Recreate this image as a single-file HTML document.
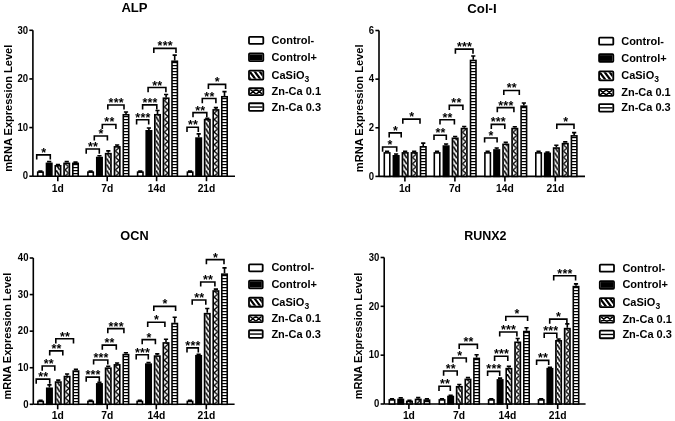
<!DOCTYPE html>
<html><head><meta charset="utf-8"><style>
html,body{margin:0;padding:0;background:#fff;}
svg{display:block;will-change:transform;filter:blur(0.35px);}
text{font-family:"Liberation Sans", sans-serif;fill:#000;}
</style></head><body>
<svg width="675" height="421" viewBox="0 0 675 421">
<rect width="675" height="421" fill="#fff"/>
<defs><pattern id="p1" patternUnits="userSpaceOnUse" x="56.06" y="176.2" width="3.8" height="6"><rect width="3.8" height="6" fill="#fff"/><path d="M-3.8,-6 L7.6,12" stroke="#000" stroke-width="1.7"/></pattern><pattern id="p2" patternUnits="userSpaceOnUse" x="64.84" y="176.2" width="3.8" height="6.3"><rect width="3.8" height="6.3" fill="#fff"/><path d="M0,0 L3.8,3.15 L0,6.3" stroke="#000" stroke-width="1.3" fill="none"/></pattern><pattern id="p3" patternUnits="userSpaceOnUse" x="73.62" y="176" width="3.8" height="3"><rect width="3.8" height="3" fill="#fff"/><rect y="0" width="3.8" height="1.2" fill="#000"/></pattern><pattern id="p4" patternUnits="userSpaceOnUse" x="106.4" y="176.2" width="3.8" height="6"><rect width="3.8" height="6" fill="#fff"/><path d="M-3.8,-6 L7.6,12" stroke="#000" stroke-width="1.7"/></pattern><pattern id="p5" patternUnits="userSpaceOnUse" x="115.25" y="176.2" width="3.8" height="6.3"><rect width="3.8" height="6.3" fill="#fff"/><path d="M0,0 L3.8,3.15 L0,6.3" stroke="#000" stroke-width="1.3" fill="none"/></pattern><pattern id="p6" patternUnits="userSpaceOnUse" x="124.1" y="176" width="3.8" height="3"><rect width="3.8" height="3" fill="#fff"/><rect y="0" width="3.8" height="1.2" fill="#000"/></pattern><pattern id="p7" patternUnits="userSpaceOnUse" x="155.6" y="176.2" width="3.8" height="6"><rect width="3.8" height="6" fill="#fff"/><path d="M-3.8,-6 L7.6,12" stroke="#000" stroke-width="1.7"/></pattern><pattern id="p8" patternUnits="userSpaceOnUse" x="164.2" y="176.2" width="3.8" height="6.3"><rect width="3.8" height="6.3" fill="#fff"/><path d="M0,0 L3.8,3.15 L0,6.3" stroke="#000" stroke-width="1.3" fill="none"/></pattern><pattern id="p9" patternUnits="userSpaceOnUse" x="172.8" y="176" width="3.8" height="3"><rect width="3.8" height="3" fill="#fff"/><rect y="0" width="3.8" height="1.2" fill="#000"/></pattern><pattern id="p10" patternUnits="userSpaceOnUse" x="205.4" y="176.2" width="3.8" height="6"><rect width="3.8" height="6" fill="#fff"/><path d="M-3.8,-6 L7.6,12" stroke="#000" stroke-width="1.7"/></pattern><pattern id="p11" patternUnits="userSpaceOnUse" x="214" y="176.2" width="3.8" height="6.3"><rect width="3.8" height="6.3" fill="#fff"/><path d="M0,0 L3.8,3.15 L0,6.3" stroke="#000" stroke-width="1.3" fill="none"/></pattern><pattern id="p12" patternUnits="userSpaceOnUse" x="222.6" y="176" width="3.8" height="3"><rect width="3.8" height="3" fill="#fff"/><rect y="0" width="3.8" height="1.2" fill="#000"/></pattern><clipPath id="c13"><rect x="249.9" y="71.45" width="12.5" height="7.2"/></clipPath><clipPath id="c14"><rect x="249.9" y="89.15" width="12.5" height="5"/></clipPath><pattern id="p15" patternUnits="userSpaceOnUse" x="403.2" y="176.4" width="3.9" height="6"><rect width="3.9" height="6" fill="#fff"/><path d="M-3.9,-6 L7.8,12" stroke="#000" stroke-width="1.7"/></pattern><pattern id="p16" patternUnits="userSpaceOnUse" x="412.25" y="176.4" width="3.9" height="6.3"><rect width="3.9" height="6.3" fill="#fff"/><path d="M0,0 L3.9,3.15 L0,6.3" stroke="#000" stroke-width="1.3" fill="none"/></pattern><pattern id="p17" patternUnits="userSpaceOnUse" x="421.3" y="176" width="3.9" height="3"><rect width="3.9" height="3" fill="#fff"/><rect y="0" width="3.9" height="1.2" fill="#000"/></pattern><pattern id="p18" patternUnits="userSpaceOnUse" x="453.2" y="176.4" width="3.9" height="6"><rect width="3.9" height="6" fill="#fff"/><path d="M-3.9,-6 L7.8,12" stroke="#000" stroke-width="1.7"/></pattern><pattern id="p19" patternUnits="userSpaceOnUse" x="462.25" y="176.4" width="3.9" height="6.3"><rect width="3.9" height="6.3" fill="#fff"/><path d="M0,0 L3.9,3.15 L0,6.3" stroke="#000" stroke-width="1.3" fill="none"/></pattern><pattern id="p20" patternUnits="userSpaceOnUse" x="471.3" y="176" width="3.9" height="3"><rect width="3.9" height="3" fill="#fff"/><rect y="0" width="3.9" height="1.2" fill="#000"/></pattern><pattern id="p21" patternUnits="userSpaceOnUse" x="503.8" y="176.4" width="3.9" height="6"><rect width="3.9" height="6" fill="#fff"/><path d="M-3.9,-6 L7.8,12" stroke="#000" stroke-width="1.7"/></pattern><pattern id="p22" patternUnits="userSpaceOnUse" x="512.85" y="176.4" width="3.9" height="6.3"><rect width="3.9" height="6.3" fill="#fff"/><path d="M0,0 L3.9,3.15 L0,6.3" stroke="#000" stroke-width="1.3" fill="none"/></pattern><pattern id="p23" patternUnits="userSpaceOnUse" x="521.9" y="176" width="3.9" height="3"><rect width="3.9" height="3" fill="#fff"/><rect y="0" width="3.9" height="1.2" fill="#000"/></pattern><pattern id="p24" patternUnits="userSpaceOnUse" x="554.4" y="176.4" width="3.9" height="6"><rect width="3.9" height="6" fill="#fff"/><path d="M-3.9,-6 L7.8,12" stroke="#000" stroke-width="1.7"/></pattern><pattern id="p25" patternUnits="userSpaceOnUse" x="563.3" y="176.4" width="3.9" height="6.3"><rect width="3.9" height="6.3" fill="#fff"/><path d="M0,0 L3.9,3.15 L0,6.3" stroke="#000" stroke-width="1.3" fill="none"/></pattern><pattern id="p26" patternUnits="userSpaceOnUse" x="572.2" y="176" width="3.9" height="3"><rect width="3.9" height="3" fill="#fff"/><rect y="0" width="3.9" height="1.2" fill="#000"/></pattern><clipPath id="c27"><rect x="600" y="72.25" width="12.4" height="7.2"/></clipPath><clipPath id="c28"><rect x="600" y="89.95" width="12.4" height="5"/></clipPath><pattern id="p29" patternUnits="userSpaceOnUse" x="56.36" y="404.3" width="3.8" height="6"><rect width="3.8" height="6" fill="#fff"/><path d="M-3.8,-6 L7.6,12" stroke="#000" stroke-width="1.7"/></pattern><pattern id="p30" patternUnits="userSpaceOnUse" x="65.19" y="404.3" width="3.8" height="6.3"><rect width="3.8" height="6.3" fill="#fff"/><path d="M0,0 L3.8,3.15 L0,6.3" stroke="#000" stroke-width="1.3" fill="none"/></pattern><pattern id="p31" patternUnits="userSpaceOnUse" x="74.02" y="404" width="3.8" height="3"><rect width="3.8" height="3" fill="#fff"/><rect y="0" width="3.8" height="1.2" fill="#000"/></pattern><pattern id="p32" patternUnits="userSpaceOnUse" x="106.36" y="404.3" width="3.8" height="6"><rect width="3.8" height="6" fill="#fff"/><path d="M-3.8,-6 L7.6,12" stroke="#000" stroke-width="1.7"/></pattern><pattern id="p33" patternUnits="userSpaceOnUse" x="115.19" y="404.3" width="3.8" height="6.3"><rect width="3.8" height="6.3" fill="#fff"/><path d="M0,0 L3.8,3.15 L0,6.3" stroke="#000" stroke-width="1.3" fill="none"/></pattern><pattern id="p34" patternUnits="userSpaceOnUse" x="124.02" y="404" width="3.8" height="3"><rect width="3.8" height="3" fill="#fff"/><rect y="0" width="3.8" height="1.2" fill="#000"/></pattern><pattern id="p35" patternUnits="userSpaceOnUse" x="155.36" y="404.3" width="3.8" height="6"><rect width="3.8" height="6" fill="#fff"/><path d="M-3.8,-6 L7.6,12" stroke="#000" stroke-width="1.7"/></pattern><pattern id="p36" patternUnits="userSpaceOnUse" x="164.09" y="404.3" width="3.8" height="6.3"><rect width="3.8" height="6.3" fill="#fff"/><path d="M0,0 L3.8,3.15 L0,6.3" stroke="#000" stroke-width="1.3" fill="none"/></pattern><pattern id="p37" patternUnits="userSpaceOnUse" x="172.82" y="404" width="3.8" height="3"><rect width="3.8" height="3" fill="#fff"/><rect y="0" width="3.8" height="1.2" fill="#000"/></pattern><pattern id="p38" patternUnits="userSpaceOnUse" x="205.36" y="404.3" width="3.8" height="6"><rect width="3.8" height="6" fill="#fff"/><path d="M-3.8,-6 L7.6,12" stroke="#000" stroke-width="1.7"/></pattern><pattern id="p39" patternUnits="userSpaceOnUse" x="213.99" y="404.3" width="3.8" height="6.3"><rect width="3.8" height="6.3" fill="#fff"/><path d="M0,0 L3.8,3.15 L0,6.3" stroke="#000" stroke-width="1.3" fill="none"/></pattern><pattern id="p40" patternUnits="userSpaceOnUse" x="222.62" y="404" width="3.8" height="3"><rect width="3.8" height="3" fill="#fff"/><rect y="0" width="3.8" height="1.2" fill="#000"/></pattern><clipPath id="c41"><rect x="249.9" y="298.64" width="11.9" height="7.2"/></clipPath><clipPath id="c42"><rect x="249.9" y="316.24" width="11.9" height="5"/></clipPath><pattern id="p43" patternUnits="userSpaceOnUse" x="407.56" y="404" width="3.8" height="6"><rect width="3.8" height="6" fill="#fff"/><path d="M-3.8,-6 L7.6,12" stroke="#000" stroke-width="1.7"/></pattern><pattern id="p44" patternUnits="userSpaceOnUse" x="416.29" y="404" width="3.8" height="6.3"><rect width="3.8" height="6.3" fill="#fff"/><path d="M0,0 L3.8,3.15 L0,6.3" stroke="#000" stroke-width="1.3" fill="none"/></pattern><pattern id="p45" patternUnits="userSpaceOnUse" x="425.02" y="404" width="3.8" height="3"><rect width="3.8" height="3" fill="#fff"/><rect y="0" width="3.8" height="1.2" fill="#000"/></pattern><pattern id="p46" patternUnits="userSpaceOnUse" x="457.4" y="404" width="3.8" height="6"><rect width="3.8" height="6" fill="#fff"/><path d="M-3.8,-6 L7.6,12" stroke="#000" stroke-width="1.7"/></pattern><pattern id="p47" patternUnits="userSpaceOnUse" x="466.05" y="404" width="3.8" height="6.3"><rect width="3.8" height="6.3" fill="#fff"/><path d="M0,0 L3.8,3.15 L0,6.3" stroke="#000" stroke-width="1.3" fill="none"/></pattern><pattern id="p48" patternUnits="userSpaceOnUse" x="474.7" y="404" width="3.8" height="3"><rect width="3.8" height="3" fill="#fff"/><rect y="0" width="3.8" height="1.2" fill="#000"/></pattern><pattern id="p49" patternUnits="userSpaceOnUse" x="507" y="404" width="3.8" height="6"><rect width="3.8" height="6" fill="#fff"/><path d="M-3.8,-6 L7.6,12" stroke="#000" stroke-width="1.7"/></pattern><pattern id="p50" patternUnits="userSpaceOnUse" x="515.8" y="404" width="3.8" height="6.3"><rect width="3.8" height="6.3" fill="#fff"/><path d="M0,0 L3.8,3.15 L0,6.3" stroke="#000" stroke-width="1.3" fill="none"/></pattern><pattern id="p51" patternUnits="userSpaceOnUse" x="524.6" y="404" width="3.8" height="3"><rect width="3.8" height="3" fill="#fff"/><rect y="0" width="3.8" height="1.2" fill="#000"/></pattern><pattern id="p52" patternUnits="userSpaceOnUse" x="556.7" y="404" width="3.8" height="6"><rect width="3.8" height="6" fill="#fff"/><path d="M-3.8,-6 L7.6,12" stroke="#000" stroke-width="1.7"/></pattern><pattern id="p53" patternUnits="userSpaceOnUse" x="565.4" y="404" width="3.8" height="6.3"><rect width="3.8" height="6.3" fill="#fff"/><path d="M0,0 L3.8,3.15 L0,6.3" stroke="#000" stroke-width="1.3" fill="none"/></pattern><pattern id="p54" patternUnits="userSpaceOnUse" x="574.1" y="404" width="3.8" height="3"><rect width="3.8" height="3" fill="#fff"/><rect y="0" width="3.8" height="1.2" fill="#000"/></pattern><clipPath id="c55"><rect x="600.7" y="299.04" width="12.4" height="7.2"/></clipPath><clipPath id="c56"><rect x="600.7" y="316.64" width="12.4" height="5"/></clipPath></defs><g><text x="134.5" y="12.4" text-anchor="middle" font-size="13.6" font-weight="bold" textLength="26.2" lengthAdjust="spacingAndGlyphs">ALP</text><path d="M32.9,30.3 V176.2 M32.9,176.2 H235" stroke="#000" stroke-width="1.6" fill="none"/><path d="M29.3,176.2 H32.9" stroke="#000" stroke-width="1.6"/><text x="28.1" y="179.45" text-anchor="end" font-size="10.3" font-weight="bold" textLength="5.33" lengthAdjust="spacingAndGlyphs">0</text><path d="M29.3,127.57 H32.9" stroke="#000" stroke-width="1.6"/><text x="28.1" y="130.82" text-anchor="end" font-size="10.3" font-weight="bold" textLength="10.65" lengthAdjust="spacingAndGlyphs">10</text><path d="M29.3,78.93 H32.9" stroke="#000" stroke-width="1.6"/><text x="28.1" y="82.18" text-anchor="end" font-size="10.3" font-weight="bold" textLength="10.65" lengthAdjust="spacingAndGlyphs">20</text><path d="M29.3,30.3 H32.9" stroke="#000" stroke-width="1.6"/><text x="28.1" y="33.55" text-anchor="end" font-size="10.3" font-weight="bold" textLength="10.65" lengthAdjust="spacingAndGlyphs">30</text><path d="M57.8,176.2 V181.2" stroke="#000" stroke-width="1.6"/><text x="57.8" y="191.5" text-anchor="middle" font-size="10.3" font-weight="bold">1d</text><path d="M107.2,176.2 V181.2" stroke="#000" stroke-width="1.6"/><text x="107.2" y="191.5" text-anchor="middle" font-size="10.3" font-weight="bold">7d</text><path d="M156.6,176.2 V181.2" stroke="#000" stroke-width="1.6"/><text x="156.6" y="191.5" text-anchor="middle" font-size="10.3" font-weight="bold">14d</text><path d="M206.5,176.2 V181.2" stroke="#000" stroke-width="1.6"/><text x="206.5" y="191.5" text-anchor="middle" font-size="10.3" font-weight="bold">21d</text><text transform="translate(11.6,108.25) rotate(-90)" text-anchor="middle" font-size="10.9" font-weight="bold" textLength="127.1" lengthAdjust="spacingAndGlyphs">mRNA Expression Level</text><path d="M40.4,171.34 V171.09 M38.3,171.09 H42.5" stroke="#000" stroke-width="1.6"/><rect x="37.7" y="172.14" width="5.4" height="4.06" fill="#fff" stroke="#000" stroke-width="1.6"/><path d="M49.18,162.58 V161.61 M47.08,161.61 H51.28" stroke="#000" stroke-width="1.6"/><rect x="46.48" y="163.38" width="5.4" height="12.82" fill="#000" stroke="#000" stroke-width="1.6"/><path d="M57.96,165.01 V164.53 M55.86,164.53 H60.06" stroke="#000" stroke-width="1.6"/><rect x="55.26" y="165.81" width="5.4" height="10.39" fill="url(#p1)" stroke="#000" stroke-width="1.6"/><path d="M66.74,162.58 V161.61 M64.64,161.61 H68.84" stroke="#000" stroke-width="1.6"/><rect x="64.04" y="163.38" width="5.4" height="12.82" fill="url(#p2)" stroke="#000" stroke-width="1.6"/><path d="M75.52,162.58 V162.1 M73.42,162.1 H77.62" stroke="#000" stroke-width="1.6"/><rect x="72.82" y="163.38" width="5.4" height="12.82" fill="url(#p3)" stroke="#000" stroke-width="1.6"/><path d="M90.6,171.34 V171.09 M88.5,171.09 H92.7" stroke="#000" stroke-width="1.6"/><rect x="87.9" y="172.14" width="5.4" height="4.06" fill="#fff" stroke="#000" stroke-width="1.6"/><path d="M99.45,156.75 V155.77 M97.35,155.77 H101.55" stroke="#000" stroke-width="1.6"/><rect x="96.75" y="157.55" width="5.4" height="18.65" fill="#000" stroke="#000" stroke-width="1.6"/><path d="M108.3,152.86 V150.91 M106.2,150.91 H110.4" stroke="#000" stroke-width="1.6"/><rect x="105.6" y="153.66" width="5.4" height="22.54" fill="url(#p4)" stroke="#000" stroke-width="1.6"/><path d="M117.15,146.05 V145.07 M115.05,145.07 H119.25" stroke="#000" stroke-width="1.6"/><rect x="114.45" y="146.85" width="5.4" height="29.35" fill="url(#p5)" stroke="#000" stroke-width="1.6"/><path d="M126,113.95 V112 M123.9,112 H128.1" stroke="#000" stroke-width="1.6"/><rect x="123.3" y="114.75" width="5.4" height="61.45" fill="url(#p6)" stroke="#000" stroke-width="1.6"/><path d="M140.3,171.34 V171.09 M138.2,171.09 H142.4" stroke="#000" stroke-width="1.6"/><rect x="137.6" y="172.14" width="5.4" height="4.06" fill="#fff" stroke="#000" stroke-width="1.6"/><path d="M148.9,130 V128.05 M146.8,128.05 H151" stroke="#000" stroke-width="1.6"/><rect x="146.2" y="130.8" width="5.4" height="45.4" fill="#000" stroke="#000" stroke-width="1.6"/><path d="M157.5,113.95 V110.55 M155.4,110.55 H159.6" stroke="#000" stroke-width="1.6"/><rect x="154.8" y="114.75" width="5.4" height="61.45" fill="url(#p7)" stroke="#000" stroke-width="1.6"/><path d="M166.1,97.41 V94.5 M164,94.5 H168.2" stroke="#000" stroke-width="1.6"/><rect x="163.4" y="98.21" width="5.4" height="77.99" fill="url(#p8)" stroke="#000" stroke-width="1.6"/><path d="M174.7,60.45 V55.1 M172.6,55.1 H176.8" stroke="#000" stroke-width="1.6"/><rect x="172" y="61.25" width="5.4" height="114.95" fill="url(#p9)" stroke="#000" stroke-width="1.6"/><path d="M190.1,171.34 V171.09 M188,171.09 H192.2" stroke="#000" stroke-width="1.6"/><rect x="187.4" y="172.14" width="5.4" height="4.06" fill="#fff" stroke="#000" stroke-width="1.6"/><path d="M198.7,137.29 V133.89 M196.6,133.89 H200.8" stroke="#000" stroke-width="1.6"/><rect x="196" y="138.09" width="5.4" height="38.11" fill="#000" stroke="#000" stroke-width="1.6"/><path d="M207.3,118.81 V118.33 M205.2,118.33 H209.4" stroke="#000" stroke-width="1.6"/><rect x="204.6" y="119.61" width="5.4" height="56.59" fill="url(#p10)" stroke="#000" stroke-width="1.6"/><path d="M215.9,109.09 V107.63 M213.8,107.63 H218" stroke="#000" stroke-width="1.6"/><rect x="213.2" y="109.89" width="5.4" height="66.31" fill="url(#p11)" stroke="#000" stroke-width="1.6"/><path d="M224.5,95.95 V91.58 M222.4,91.58 H226.6" stroke="#000" stroke-width="1.6"/><rect x="221.8" y="96.75" width="5.4" height="79.44" fill="url(#p12)" stroke="#000" stroke-width="1.6"/><path d="M36.7,159.5 V154.85 H50.3 V159.5" stroke="#000" stroke-width="1.6" fill="none"/><text x="43.8" y="156.8" text-anchor="middle" font-size="12.5" font-weight="bold" letter-spacing="0.2">*</text><path d="M86.2,153.7 V149.05 H99.3 V153.7" stroke="#000" stroke-width="1.6" fill="none"/><text x="93.05" y="151" text-anchor="middle" font-size="12.5" font-weight="bold" letter-spacing="0.2">**</text><path d="M94.3,140.6 V135.95 H107.4 V140.6" stroke="#000" stroke-width="1.6" fill="none"/><text x="101.15" y="137.9" text-anchor="middle" font-size="12.5" font-weight="bold" letter-spacing="0.2">*</text><path d="M102.3,129.1 V124.45 H115.9 V129.1" stroke="#000" stroke-width="1.6" fill="none"/><text x="109.4" y="126.4" text-anchor="middle" font-size="12.5" font-weight="bold" letter-spacing="0.2">**</text><path d="M107.8,109.6 V104.95 H124 V109.6" stroke="#000" stroke-width="1.6" fill="none"/><text x="116.2" y="106.9" text-anchor="middle" font-size="12.5" font-weight="bold" letter-spacing="0.2">***</text><path d="M136.6,124.4 V119.75 H148.7 V124.4" stroke="#000" stroke-width="1.6" fill="none"/><text x="142.95" y="121.7" text-anchor="middle" font-size="12.5" font-weight="bold" letter-spacing="0.2">***</text><path d="M142.6,109.5 V104.85 H156.8 V109.5" stroke="#000" stroke-width="1.6" fill="none"/><text x="150" y="106.8" text-anchor="middle" font-size="12.5" font-weight="bold" letter-spacing="0.2">***</text><path d="M148.1,92.2 V87.55 H165.9 V92.2" stroke="#000" stroke-width="1.6" fill="none"/><text x="157.3" y="89.5" text-anchor="middle" font-size="12.5" font-weight="bold" letter-spacing="0.2">**</text><path d="M153.8,53 V48.35 H176 V53" stroke="#000" stroke-width="1.6" fill="none"/><text x="165.2" y="50.3" text-anchor="middle" font-size="12.5" font-weight="bold" letter-spacing="0.2">***</text><path d="M187,131.9 V127.25 H198.3 V131.9" stroke="#000" stroke-width="1.6" fill="none"/><text x="192.95" y="129.2" text-anchor="middle" font-size="12.5" font-weight="bold" letter-spacing="0.2">**</text><path d="M193,117.3 V112.65 H206.8 V117.3" stroke="#000" stroke-width="1.6" fill="none"/><text x="200.2" y="114.6" text-anchor="middle" font-size="12.5" font-weight="bold" letter-spacing="0.2">**</text><path d="M202.3,103.2 V98.55 H215.9 V103.2" stroke="#000" stroke-width="1.6" fill="none"/><text x="209.4" y="100.5" text-anchor="middle" font-size="12.5" font-weight="bold" letter-spacing="0.2">**</text><path d="M208.4,89 V84.35 H225.6 V89" stroke="#000" stroke-width="1.6" fill="none"/><text x="217.3" y="86.3" text-anchor="middle" font-size="12.5" font-weight="bold" letter-spacing="0.2">*</text><rect x="249" y="36.9" width="14.3" height="7" rx="0.8" fill="#fff" stroke="#000" stroke-width="1.8"/><text x="271.5" y="43.9" font-size="11" font-weight="bold">Control-</text><rect x="249" y="53.45" width="14.3" height="7.6" rx="0.8" fill="#fff" stroke="#000" stroke-width="1.8"/><rect x="249.9" y="54.35" width="12.5" height="5.8" fill="#000"/><text x="271.5" y="60.75" font-size="11" font-weight="bold">Control+</text><rect x="249" y="70.55" width="14.3" height="9" rx="0.8" fill="#fff" stroke="#000" stroke-width="1.8"/><path clip-path="url(#c13)" d="M238.9,70.45 L245.8,79.65 M243.9,70.45 L250.8,79.65 M248.9,70.45 L255.8,79.65 M253.9,70.45 L260.8,79.65 M258.9,70.45 L265.8,79.65 M263.9,70.45 L270.8,79.65 M268.9,70.45 L275.8,79.65 " stroke="#000" stroke-width="2.2"/><text x="271.5" y="78.55" font-size="11" font-weight="bold">CaSiO<tspan font-size="8.5" dy="3">3</tspan></text><rect x="249" y="88.25" width="14.3" height="6.8" rx="0.8" fill="#fff" stroke="#000" stroke-width="1.8"/><path clip-path="url(#c14)" d="M249.9,89.15 L256.15,94.15 M256.15,89.15 L249.9,94.15 M256.15,89.15 L262.4,94.15 M262.4,89.15 L256.15,94.15 " stroke="#000" stroke-width="1.5"/><text x="271.5" y="95.15" font-size="11" font-weight="bold">Zn-Ca 0.1</text><rect x="249" y="103.25" width="14.3" height="7.6" rx="0.8" fill="#fff" stroke="#000" stroke-width="1.8"/><rect x="249.9" y="106.35" width="12.5" height="1.4" fill="#000"/><text x="271.5" y="110.55" font-size="11" font-weight="bold">Zn-Ca 0.3</text></g><g><text x="482" y="13" text-anchor="middle" font-size="13.6" font-weight="bold" textLength="29.4" lengthAdjust="spacingAndGlyphs">Col-I</text><path d="M379,30.5 V176.4 M379,176.4 H585" stroke="#000" stroke-width="1.6" fill="none"/><path d="M375.4,176.4 H379" stroke="#000" stroke-width="1.6"/><text x="374.2" y="179.65" text-anchor="end" font-size="10.3" font-weight="bold" textLength="5.33" lengthAdjust="spacingAndGlyphs">0</text><path d="M375.4,127.77 H379" stroke="#000" stroke-width="1.6"/><text x="374.2" y="131.02" text-anchor="end" font-size="10.3" font-weight="bold" textLength="5.33" lengthAdjust="spacingAndGlyphs">2</text><path d="M375.4,79.13 H379" stroke="#000" stroke-width="1.6"/><text x="374.2" y="82.38" text-anchor="end" font-size="10.3" font-weight="bold" textLength="5.33" lengthAdjust="spacingAndGlyphs">4</text><path d="M375.4,30.5 H379" stroke="#000" stroke-width="1.6"/><text x="374.2" y="33.75" text-anchor="end" font-size="10.3" font-weight="bold" textLength="5.33" lengthAdjust="spacingAndGlyphs">6</text><path d="M404.9,176.4 V181.4" stroke="#000" stroke-width="1.6"/><text x="404.9" y="191.7" text-anchor="middle" font-size="10.3" font-weight="bold">1d</text><path d="M454.9,176.4 V181.4" stroke="#000" stroke-width="1.6"/><text x="454.9" y="191.7" text-anchor="middle" font-size="10.3" font-weight="bold">7d</text><path d="M504.9,176.4 V181.4" stroke="#000" stroke-width="1.6"/><text x="504.9" y="191.7" text-anchor="middle" font-size="10.3" font-weight="bold">14d</text><path d="M555.3,176.4 V181.4" stroke="#000" stroke-width="1.6"/><text x="555.3" y="191.7" text-anchor="middle" font-size="10.3" font-weight="bold">21d</text><text transform="translate(362.7,108.35) rotate(-90)" text-anchor="middle" font-size="10.9" font-weight="bold" textLength="127.7" lengthAdjust="spacingAndGlyphs">mRNA Expression Level</text><path d="M387.05,152.08 V151.35 M384.95,151.35 H389.15" stroke="#000" stroke-width="1.6"/><rect x="384.3" y="152.88" width="5.5" height="23.52" fill="#fff" stroke="#000" stroke-width="1.6"/><path d="M396.1,155 V154.03 M394,154.03 H398.2" stroke="#000" stroke-width="1.6"/><rect x="393.35" y="155.8" width="5.5" height="20.6" fill="#000" stroke="#000" stroke-width="1.6"/><path d="M405.15,152.08 V151.35 M403.05,151.35 H407.25" stroke="#000" stroke-width="1.6"/><rect x="402.4" y="152.88" width="5.5" height="23.52" fill="url(#p15)" stroke="#000" stroke-width="1.6"/><path d="M414.2,152.08 V151.35 M412.1,151.35 H416.3" stroke="#000" stroke-width="1.6"/><rect x="411.45" y="152.88" width="5.5" height="23.52" fill="url(#p16)" stroke="#000" stroke-width="1.6"/><path d="M423.25,146 V143.09 M421.15,143.09 H425.35" stroke="#000" stroke-width="1.6"/><rect x="420.5" y="146.8" width="5.5" height="29.6" fill="url(#p17)" stroke="#000" stroke-width="1.6"/><path d="M437.05,152.08 V151.35 M434.95,151.35 H439.15" stroke="#000" stroke-width="1.6"/><rect x="434.3" y="152.88" width="5.5" height="23.52" fill="#fff" stroke="#000" stroke-width="1.6"/><path d="M446.1,145.27 V144.06 M444,144.06 H448.2" stroke="#000" stroke-width="1.6"/><rect x="443.35" y="146.07" width="5.5" height="30.33" fill="#000" stroke="#000" stroke-width="1.6"/><path d="M455.15,137.49 V136.52 M453.05,136.52 H457.25" stroke="#000" stroke-width="1.6"/><rect x="452.4" y="138.29" width="5.5" height="38.11" fill="url(#p18)" stroke="#000" stroke-width="1.6"/><path d="M464.2,127.77 V126.55 M462.1,126.55 H466.3" stroke="#000" stroke-width="1.6"/><rect x="461.45" y="128.57" width="5.5" height="47.83" fill="url(#p19)" stroke="#000" stroke-width="1.6"/><path d="M473.25,59.68 V56.03 M471.15,56.03 H475.35" stroke="#000" stroke-width="1.6"/><rect x="470.5" y="60.48" width="5.5" height="115.92" fill="url(#p20)" stroke="#000" stroke-width="1.6"/><path d="M487.65,152.08 V151.35 M485.55,151.35 H489.75" stroke="#000" stroke-width="1.6"/><rect x="484.9" y="152.88" width="5.5" height="23.52" fill="#fff" stroke="#000" stroke-width="1.6"/><path d="M496.7,149.17 V147.95 M494.6,147.95 H498.8" stroke="#000" stroke-width="1.6"/><rect x="493.95" y="149.97" width="5.5" height="26.43" fill="#000" stroke="#000" stroke-width="1.6"/><path d="M505.75,143.57 V142.36 M503.65,142.36 H507.85" stroke="#000" stroke-width="1.6"/><rect x="503" y="144.37" width="5.5" height="32.03" fill="url(#p21)" stroke="#000" stroke-width="1.6"/><path d="M514.8,127.77 V126.79 M512.7,126.79 H516.9" stroke="#000" stroke-width="1.6"/><rect x="512.05" y="128.57" width="5.5" height="47.83" fill="url(#p22)" stroke="#000" stroke-width="1.6"/><path d="M523.85,105.4 V102.96 M521.75,102.96 H525.95" stroke="#000" stroke-width="1.6"/><rect x="521.1" y="106.2" width="5.5" height="70.2" fill="url(#p23)" stroke="#000" stroke-width="1.6"/><path d="M538.55,152.08 V151.35 M536.45,151.35 H540.65" stroke="#000" stroke-width="1.6"/><rect x="535.8" y="152.88" width="5.5" height="23.52" fill="#fff" stroke="#000" stroke-width="1.6"/><path d="M547.45,152.57 V152.08 M545.35,152.08 H549.55" stroke="#000" stroke-width="1.6"/><rect x="544.7" y="153.37" width="5.5" height="23.03" fill="#000" stroke="#000" stroke-width="1.6"/><path d="M556.35,147.22 V145.27 M554.25,145.27 H558.45" stroke="#000" stroke-width="1.6"/><rect x="553.6" y="148.02" width="5.5" height="28.38" fill="url(#p24)" stroke="#000" stroke-width="1.6"/><path d="M565.25,142.84 V141.87 M563.15,141.87 H567.35" stroke="#000" stroke-width="1.6"/><rect x="562.5" y="143.64" width="5.5" height="32.76" fill="url(#p25)" stroke="#000" stroke-width="1.6"/><path d="M574.15,135.06 V132.63 M572.05,132.63 H576.25" stroke="#000" stroke-width="1.6"/><rect x="571.4" y="135.86" width="5.5" height="40.54" fill="url(#p26)" stroke="#000" stroke-width="1.6"/><path d="M382.6,151.7 V147.05 H396.7 V151.7" stroke="#000" stroke-width="1.6" fill="none"/><text x="389.95" y="149" text-anchor="middle" font-size="12.5" font-weight="bold" letter-spacing="0.2">*</text><path d="M389.2,137.5 V132.85 H401.2 V137.5" stroke="#000" stroke-width="1.6" fill="none"/><text x="395.5" y="134.8" text-anchor="middle" font-size="12.5" font-weight="bold" letter-spacing="0.2">*</text><path d="M402.8,123.8 V119.15 H420 V123.8" stroke="#000" stroke-width="1.6" fill="none"/><text x="411.7" y="121.1" text-anchor="middle" font-size="12.5" font-weight="bold" letter-spacing="0.2">*</text><path d="M434,139.9 V135.25 H446.3 V139.9" stroke="#000" stroke-width="1.6" fill="none"/><text x="440.45" y="137.2" text-anchor="middle" font-size="12.5" font-weight="bold" letter-spacing="0.2">**</text><path d="M440,124.4 V119.75 H454.4 V124.4" stroke="#000" stroke-width="1.6" fill="none"/><text x="447.5" y="121.7" text-anchor="middle" font-size="12.5" font-weight="bold" letter-spacing="0.2">**</text><path d="M449.3,110 V105.35 H462.9 V110" stroke="#000" stroke-width="1.6" fill="none"/><text x="456.4" y="107.3" text-anchor="middle" font-size="12.5" font-weight="bold" letter-spacing="0.2">**</text><path d="M455.4,53.8 V49.15 H473 V53.8" stroke="#000" stroke-width="1.6" fill="none"/><text x="464.5" y="51.1" text-anchor="middle" font-size="12.5" font-weight="bold" letter-spacing="0.2">***</text><path d="M484.6,142.6 V137.95 H497.1 V142.6" stroke="#000" stroke-width="1.6" fill="none"/><text x="491.15" y="139.9" text-anchor="middle" font-size="12.5" font-weight="bold" letter-spacing="0.2">*</text><path d="M491.3,129 V124.35 H504.8 V129" stroke="#000" stroke-width="1.6" fill="none"/><text x="498.35" y="126.3" text-anchor="middle" font-size="12.5" font-weight="bold" letter-spacing="0.2">***</text><path d="M497.3,112.3 V107.65 H513.9 V112.3" stroke="#000" stroke-width="1.6" fill="none"/><text x="505.9" y="109.6" text-anchor="middle" font-size="12.5" font-weight="bold" letter-spacing="0.2">***</text><path d="M503.8,95.1 V90.45 H519.3 V95.1" stroke="#000" stroke-width="1.6" fill="none"/><text x="511.85" y="92.4" text-anchor="middle" font-size="12.5" font-weight="bold" letter-spacing="0.2">**</text><path d="M556.8,129 V124.35 H574 V129" stroke="#000" stroke-width="1.6" fill="none"/><text x="565.7" y="126.3" text-anchor="middle" font-size="12.5" font-weight="bold" letter-spacing="0.2">*</text><rect x="599.1" y="37.7" width="14.2" height="7" rx="0.8" fill="#fff" stroke="#000" stroke-width="1.8"/><text x="621.2" y="44.7" font-size="11" font-weight="bold">Control-</text><rect x="599.1" y="54.25" width="14.2" height="7.6" rx="0.8" fill="#fff" stroke="#000" stroke-width="1.8"/><rect x="600" y="55.15" width="12.4" height="5.8" fill="#000"/><text x="621.2" y="61.55" font-size="11" font-weight="bold">Control+</text><rect x="599.1" y="71.35" width="14.2" height="9" rx="0.8" fill="#fff" stroke="#000" stroke-width="1.8"/><path clip-path="url(#c27)" d="M589,71.25 L595.9,80.45 M594,71.25 L600.9,80.45 M599,71.25 L605.9,80.45 M604,71.25 L610.9,80.45 M609,71.25 L615.9,80.45 M614,71.25 L620.9,80.45 M619,71.25 L625.9,80.45 " stroke="#000" stroke-width="2.2"/><text x="621.2" y="79.35" font-size="11" font-weight="bold">CaSiO<tspan font-size="8.5" dy="3">3</tspan></text><rect x="599.1" y="89.05" width="14.2" height="6.8" rx="0.8" fill="#fff" stroke="#000" stroke-width="1.8"/><path clip-path="url(#c28)" d="M600,89.95 L606.2,94.95 M606.2,89.95 L600,94.95 M606.2,89.95 L612.4,94.95 M612.4,89.95 L606.2,94.95 " stroke="#000" stroke-width="1.5"/><text x="621.2" y="95.95" font-size="11" font-weight="bold">Zn-Ca 0.1</text><rect x="599.1" y="104.05" width="14.2" height="7.6" rx="0.8" fill="#fff" stroke="#000" stroke-width="1.8"/><rect x="600" y="107.15" width="12.4" height="1.4" fill="#000"/><text x="621.2" y="111.35" font-size="11" font-weight="bold">Zn-Ca 0.3</text></g><g><text x="134.5" y="240.4" text-anchor="middle" font-size="13.6" font-weight="bold" textLength="28.3" lengthAdjust="spacingAndGlyphs">OCN</text><path d="M33.3,258 V404.3 M33.3,404.3 H234.6" stroke="#000" stroke-width="1.6" fill="none"/><path d="M29.7,404.3 H33.3" stroke="#000" stroke-width="1.6"/><text x="28.5" y="407.55" text-anchor="end" font-size="10.3" font-weight="bold" textLength="5.33" lengthAdjust="spacingAndGlyphs">0</text><path d="M29.7,367.73 H33.3" stroke="#000" stroke-width="1.6"/><text x="28.5" y="370.98" text-anchor="end" font-size="10.3" font-weight="bold" textLength="10.65" lengthAdjust="spacingAndGlyphs">10</text><path d="M29.7,331.15 H33.3" stroke="#000" stroke-width="1.6"/><text x="28.5" y="334.4" text-anchor="end" font-size="10.3" font-weight="bold" textLength="10.65" lengthAdjust="spacingAndGlyphs">20</text><path d="M29.7,294.57 H33.3" stroke="#000" stroke-width="1.6"/><text x="28.5" y="297.82" text-anchor="end" font-size="10.3" font-weight="bold" textLength="10.65" lengthAdjust="spacingAndGlyphs">30</text><path d="M29.7,258 H33.3" stroke="#000" stroke-width="1.6"/><text x="28.5" y="261.25" text-anchor="end" font-size="10.3" font-weight="bold" textLength="10.65" lengthAdjust="spacingAndGlyphs">40</text><path d="M57.7,404.3 V409.3" stroke="#000" stroke-width="1.6"/><text x="57.7" y="418.8" text-anchor="middle" font-size="10.3" font-weight="bold">1d</text><path d="M107.2,404.3 V409.3" stroke="#000" stroke-width="1.6"/><text x="107.2" y="418.8" text-anchor="middle" font-size="10.3" font-weight="bold">7d</text><path d="M156.3,404.3 V409.3" stroke="#000" stroke-width="1.6"/><text x="156.3" y="418.8" text-anchor="middle" font-size="10.3" font-weight="bold">14d</text><path d="M206.3,404.3 V409.3" stroke="#000" stroke-width="1.6"/><text x="206.3" y="418.8" text-anchor="middle" font-size="10.3" font-weight="bold">21d</text><text transform="translate(10.9,336.1) rotate(-90)" text-anchor="middle" font-size="10.9" font-weight="bold" textLength="126.6" lengthAdjust="spacingAndGlyphs">mRNA Expression Level</text><path d="M40.6,400.64 V400.28 M38.5,400.28 H42.7" stroke="#000" stroke-width="1.6"/><rect x="37.9" y="401.44" width="5.4" height="2.86" fill="#fff" stroke="#000" stroke-width="1.6"/><path d="M49.43,387.48 V384.92 M47.33,384.92 H51.53" stroke="#000" stroke-width="1.6"/><rect x="46.73" y="388.28" width="5.4" height="16.02" fill="#000" stroke="#000" stroke-width="1.6"/><path d="M58.26,381.26 V380.16 M56.16,380.16 H60.36" stroke="#000" stroke-width="1.6"/><rect x="55.56" y="382.06" width="5.4" height="22.24" fill="url(#p29)" stroke="#000" stroke-width="1.6"/><path d="M67.09,375.77 V373.94 M64.99,373.94 H69.19" stroke="#000" stroke-width="1.6"/><rect x="64.39" y="376.57" width="5.4" height="27.73" fill="url(#p30)" stroke="#000" stroke-width="1.6"/><path d="M75.92,370.29 V369.19 M73.82,369.19 H78.02" stroke="#000" stroke-width="1.6"/><rect x="73.22" y="371.09" width="5.4" height="33.21" fill="url(#p31)" stroke="#000" stroke-width="1.6"/><path d="M90.6,400.64 V400.28 M88.5,400.28 H92.7" stroke="#000" stroke-width="1.6"/><rect x="87.9" y="401.44" width="5.4" height="2.86" fill="#fff" stroke="#000" stroke-width="1.6"/><path d="M99.43,383.09 V382.36 M97.33,382.36 H101.53" stroke="#000" stroke-width="1.6"/><rect x="96.73" y="383.89" width="5.4" height="20.41" fill="#000" stroke="#000" stroke-width="1.6"/><path d="M108.26,367.36 V366.26 M106.16,366.26 H110.36" stroke="#000" stroke-width="1.6"/><rect x="105.56" y="368.16" width="5.4" height="36.14" fill="url(#p32)" stroke="#000" stroke-width="1.6"/><path d="M117.09,364.07 V362.97 M114.99,362.97 H119.19" stroke="#000" stroke-width="1.6"/><rect x="114.39" y="364.87" width="5.4" height="39.43" fill="url(#p33)" stroke="#000" stroke-width="1.6"/><path d="M125.92,353.83 V352.73 M123.82,352.73 H128.02" stroke="#000" stroke-width="1.6"/><rect x="123.22" y="354.63" width="5.4" height="49.67" fill="url(#p34)" stroke="#000" stroke-width="1.6"/><path d="M139.8,400.64 V400.28 M137.7,400.28 H141.9" stroke="#000" stroke-width="1.6"/><rect x="137.1" y="401.44" width="5.4" height="2.86" fill="#fff" stroke="#000" stroke-width="1.6"/><path d="M148.53,363.34 V362.6 M146.43,362.6 H150.63" stroke="#000" stroke-width="1.6"/><rect x="145.83" y="364.14" width="5.4" height="40.16" fill="#000" stroke="#000" stroke-width="1.6"/><path d="M157.26,355.29 V353.83 M155.16,353.83 H159.36" stroke="#000" stroke-width="1.6"/><rect x="154.56" y="356.09" width="5.4" height="48.21" fill="url(#p35)" stroke="#000" stroke-width="1.6"/><path d="M165.99,342.12 V339.2 M163.89,339.2 H168.09" stroke="#000" stroke-width="1.6"/><rect x="163.29" y="342.92" width="5.4" height="61.38" fill="url(#p36)" stroke="#000" stroke-width="1.6"/><path d="M174.72,322.74 V317.25 M172.62,317.25 H176.82" stroke="#000" stroke-width="1.6"/><rect x="172.02" y="323.54" width="5.4" height="80.76" fill="url(#p37)" stroke="#000" stroke-width="1.6"/><path d="M190,400.64 V400.28 M187.9,400.28 H192.1" stroke="#000" stroke-width="1.6"/><rect x="187.3" y="401.44" width="5.4" height="2.86" fill="#fff" stroke="#000" stroke-width="1.6"/><path d="M198.63,354.92 V354.19 M196.53,354.19 H200.73" stroke="#000" stroke-width="1.6"/><rect x="195.93" y="355.72" width="5.4" height="48.58" fill="#000" stroke="#000" stroke-width="1.6"/><path d="M207.26,312.86 V308.47 M205.16,308.47 H209.36" stroke="#000" stroke-width="1.6"/><rect x="204.56" y="313.66" width="5.4" height="90.64" fill="url(#p38)" stroke="#000" stroke-width="1.6"/><path d="M215.89,290.19 V289.09 M213.79,289.09 H217.99" stroke="#000" stroke-width="1.6"/><rect x="213.19" y="290.99" width="5.4" height="113.31" fill="url(#p39)" stroke="#000" stroke-width="1.6"/><path d="M224.52,273.36 V267.88 M222.42,267.88 H226.62" stroke="#000" stroke-width="1.6"/><rect x="221.82" y="274.16" width="5.4" height="130.14" fill="url(#p40)" stroke="#000" stroke-width="1.6"/><path d="M36.2,383.8 V379.15 H49.7 V383.8" stroke="#000" stroke-width="1.6" fill="none"/><text x="43.25" y="381.1" text-anchor="middle" font-size="12.5" font-weight="bold" letter-spacing="0.2">**</text><path d="M42.2,370.7 V366.05 H54.8 V370.7" stroke="#000" stroke-width="1.6" fill="none"/><text x="48.8" y="368" text-anchor="middle" font-size="12.5" font-weight="bold" letter-spacing="0.2">**</text><path d="M49.7,355.5 V350.85 H62.8 V355.5" stroke="#000" stroke-width="1.6" fill="none"/><text x="56.55" y="352.8" text-anchor="middle" font-size="12.5" font-weight="bold" letter-spacing="0.2">**</text><path d="M55.8,343.4 V338.75 H73.5 V343.4" stroke="#000" stroke-width="1.6" fill="none"/><text x="64.95" y="340.7" text-anchor="middle" font-size="12.5" font-weight="bold" letter-spacing="0.2">**</text><path d="M86.2,381.8 V377.15 H99.3 V381.8" stroke="#000" stroke-width="1.6" fill="none"/><text x="93.05" y="379.1" text-anchor="middle" font-size="12.5" font-weight="bold" letter-spacing="0.2">***</text><path d="M93.6,364.6 V359.95 H107.8 V364.6" stroke="#000" stroke-width="1.6" fill="none"/><text x="101" y="361.9" text-anchor="middle" font-size="12.5" font-weight="bold" letter-spacing="0.2">***</text><path d="M102.3,349.8 V345.15 H116.3 V349.8" stroke="#000" stroke-width="1.6" fill="none"/><text x="109.6" y="347.1" text-anchor="middle" font-size="12.5" font-weight="bold" letter-spacing="0.2">**</text><path d="M107.8,333.3 V328.65 H123.9 V333.3" stroke="#000" stroke-width="1.6" fill="none"/><text x="116.15" y="330.6" text-anchor="middle" font-size="12.5" font-weight="bold" letter-spacing="0.2">***</text><path d="M136.2,359.4 V354.75 H148.3 V359.4" stroke="#000" stroke-width="1.6" fill="none"/><text x="142.55" y="356.7" text-anchor="middle" font-size="12.5" font-weight="bold" letter-spacing="0.2">***</text><path d="M142.2,344.3 V339.65 H155.4 V344.3" stroke="#000" stroke-width="1.6" fill="none"/><text x="149.1" y="341.6" text-anchor="middle" font-size="12.5" font-weight="bold" letter-spacing="0.2">*</text><path d="M147.7,326.9 V322.25 H164.9 V326.9" stroke="#000" stroke-width="1.6" fill="none"/><text x="156.6" y="324.2" text-anchor="middle" font-size="12.5" font-weight="bold" letter-spacing="0.2">*</text><path d="M153.8,311 V306.35 H175.6 V311" stroke="#000" stroke-width="1.6" fill="none"/><text x="165" y="308.3" text-anchor="middle" font-size="12.5" font-weight="bold" letter-spacing="0.2">*</text><path d="M187,352.5 V347.85 H198.3 V352.5" stroke="#000" stroke-width="1.6" fill="none"/><text x="192.95" y="349.8" text-anchor="middle" font-size="12.5" font-weight="bold" letter-spacing="0.2">***</text><path d="M192.2,304.7 V300.05 H205.8 V304.7" stroke="#000" stroke-width="1.6" fill="none"/><text x="199.3" y="302" text-anchor="middle" font-size="12.5" font-weight="bold" letter-spacing="0.2">**</text><path d="M200.7,286.6 V281.95 H214.9 V286.6" stroke="#000" stroke-width="1.6" fill="none"/><text x="208.1" y="283.9" text-anchor="middle" font-size="12.5" font-weight="bold" letter-spacing="0.2">**</text><path d="M206.4,264.3 V259.65 H224 V264.3" stroke="#000" stroke-width="1.6" fill="none"/><text x="215.5" y="261.6" text-anchor="middle" font-size="12.5" font-weight="bold" letter-spacing="0.2">*</text><rect x="249" y="264.3" width="13.7" height="7" rx="0.8" fill="#fff" stroke="#000" stroke-width="1.8"/><text x="271.4" y="271.3" font-size="11" font-weight="bold">Control-</text><rect x="249" y="280.75" width="13.7" height="7.6" rx="0.8" fill="#fff" stroke="#000" stroke-width="1.8"/><rect x="249.9" y="281.65" width="11.9" height="5.8" fill="#000"/><text x="271.4" y="288.05" font-size="11" font-weight="bold">Control+</text><rect x="249" y="297.74" width="13.7" height="9" rx="0.8" fill="#fff" stroke="#000" stroke-width="1.8"/><path clip-path="url(#c41)" d="M238.9,297.64 L245.8,306.84 M243.9,297.64 L250.8,306.84 M248.9,297.64 L255.8,306.84 M253.9,297.64 L260.8,306.84 M258.9,297.64 L265.8,306.84 M263.9,297.64 L270.8,306.84 M268.9,297.64 L275.8,306.84 " stroke="#000" stroke-width="2.2"/><text x="271.4" y="305.74" font-size="11" font-weight="bold">CaSiO<tspan font-size="8.5" dy="3">3</tspan></text><rect x="249" y="315.34" width="13.7" height="6.8" rx="0.8" fill="#fff" stroke="#000" stroke-width="1.8"/><path clip-path="url(#c42)" d="M249.9,316.24 L255.85,321.24 M255.85,316.24 L249.9,321.24 M255.85,316.24 L261.8,321.24 M261.8,316.24 L255.85,321.24 " stroke="#000" stroke-width="1.5"/><text x="271.4" y="322.24" font-size="11" font-weight="bold">Zn-Ca 0.1</text><rect x="249" y="330.25" width="13.7" height="7.6" rx="0.8" fill="#fff" stroke="#000" stroke-width="1.8"/><rect x="249.9" y="333.35" width="11.9" height="1.4" fill="#000"/><text x="271.4" y="337.55" font-size="11" font-weight="bold">Zn-Ca 0.3</text></g><g><text x="485.3" y="240.4" text-anchor="middle" font-size="13.6" font-weight="bold" textLength="42.3" lengthAdjust="spacingAndGlyphs">RUNX2</text><path d="M384.2,257.5 V404 M384.2,404 H585.6" stroke="#000" stroke-width="1.6" fill="none"/><path d="M380.6,404 H384.2" stroke="#000" stroke-width="1.6"/><text x="379.4" y="407.25" text-anchor="end" font-size="10.3" font-weight="bold" textLength="5.33" lengthAdjust="spacingAndGlyphs">0</text><path d="M380.6,355.17 H384.2" stroke="#000" stroke-width="1.6"/><text x="379.4" y="358.42" text-anchor="end" font-size="10.3" font-weight="bold" textLength="10.65" lengthAdjust="spacingAndGlyphs">10</text><path d="M380.6,306.33 H384.2" stroke="#000" stroke-width="1.6"/><text x="379.4" y="309.58" text-anchor="end" font-size="10.3" font-weight="bold" textLength="10.65" lengthAdjust="spacingAndGlyphs">20</text><path d="M380.6,257.5 H384.2" stroke="#000" stroke-width="1.6"/><text x="379.4" y="260.75" text-anchor="end" font-size="10.3" font-weight="bold" textLength="10.65" lengthAdjust="spacingAndGlyphs">30</text><path d="M408.9,404 V409" stroke="#000" stroke-width="1.6"/><text x="408.9" y="419.3" text-anchor="middle" font-size="10.3" font-weight="bold">1d</text><path d="M459,404 V409" stroke="#000" stroke-width="1.6"/><text x="459" y="419.3" text-anchor="middle" font-size="10.3" font-weight="bold">7d</text><path d="M507.3,404 V409" stroke="#000" stroke-width="1.6"/><text x="507.3" y="419.3" text-anchor="middle" font-size="10.3" font-weight="bold">14d</text><path d="M557.7,404 V409" stroke="#000" stroke-width="1.6"/><text x="557.7" y="419.3" text-anchor="middle" font-size="10.3" font-weight="bold">21d</text><text transform="translate(362.3,335.95) rotate(-90)" text-anchor="middle" font-size="10.9" font-weight="bold" textLength="126.7" lengthAdjust="spacingAndGlyphs">mRNA Expression Level</text><path d="M392,399.12 V398.87 M389.9,398.87 H394.1" stroke="#000" stroke-width="1.6"/><rect x="389.3" y="399.92" width="5.4" height="4.08" fill="#fff" stroke="#000" stroke-width="1.6"/><path d="M400.73,398.63 V397.9 M398.63,397.9 H402.83" stroke="#000" stroke-width="1.6"/><rect x="398.03" y="399.43" width="5.4" height="4.57" fill="#000" stroke="#000" stroke-width="1.6"/><path d="M409.46,400.58 V400.34 M407.36,400.34 H411.56" stroke="#000" stroke-width="1.6"/><rect x="406.76" y="401.38" width="5.4" height="2.62" fill="url(#p43)" stroke="#000" stroke-width="1.6"/><path d="M418.19,398.63 V397.65 M416.09,397.65 H420.29" stroke="#000" stroke-width="1.6"/><rect x="415.49" y="399.43" width="5.4" height="4.57" fill="url(#p44)" stroke="#000" stroke-width="1.6"/><path d="M426.92,399.36 V398.87 M424.82,398.87 H429.02" stroke="#000" stroke-width="1.6"/><rect x="424.22" y="400.16" width="5.4" height="3.84" fill="url(#p45)" stroke="#000" stroke-width="1.6"/><path d="M442,399.12 V398.87 M439.9,398.87 H444.1" stroke="#000" stroke-width="1.6"/><rect x="439.3" y="399.92" width="5.4" height="4.08" fill="#fff" stroke="#000" stroke-width="1.6"/><path d="M450.65,395.7 V395.21 M448.55,395.21 H452.75" stroke="#000" stroke-width="1.6"/><rect x="447.95" y="396.5" width="5.4" height="7.5" fill="#000" stroke="#000" stroke-width="1.6"/><path d="M459.3,385.93 V384.47 M457.2,384.47 H461.4" stroke="#000" stroke-width="1.6"/><rect x="456.6" y="386.73" width="5.4" height="17.27" fill="url(#p46)" stroke="#000" stroke-width="1.6"/><path d="M467.95,378.61 V377.63 M465.85,377.63 H470.05" stroke="#000" stroke-width="1.6"/><rect x="465.25" y="379.41" width="5.4" height="24.59" fill="url(#p47)" stroke="#000" stroke-width="1.6"/><path d="M476.6,357.61 V354.68 M474.5,354.68 H478.7" stroke="#000" stroke-width="1.6"/><rect x="473.9" y="358.41" width="5.4" height="45.59" fill="url(#p48)" stroke="#000" stroke-width="1.6"/><path d="M491.3,399.12 V398.87 M489.2,398.87 H493.4" stroke="#000" stroke-width="1.6"/><rect x="488.6" y="399.92" width="5.4" height="4.08" fill="#fff" stroke="#000" stroke-width="1.6"/><path d="M500.1,379.1 V378.12 M498,378.12 H502.2" stroke="#000" stroke-width="1.6"/><rect x="497.4" y="379.9" width="5.4" height="24.1" fill="#000" stroke="#000" stroke-width="1.6"/><path d="M508.9,367.86 V366.4 M506.8,366.4 H511" stroke="#000" stroke-width="1.6"/><rect x="506.2" y="368.66" width="5.4" height="35.34" fill="url(#p49)" stroke="#000" stroke-width="1.6"/><path d="M517.7,341.49 V338.56 M515.6,338.56 H519.8" stroke="#000" stroke-width="1.6"/><rect x="515" y="342.29" width="5.4" height="61.71" fill="url(#p50)" stroke="#000" stroke-width="1.6"/><path d="M526.5,330.75 V327.82 M524.4,327.82 H528.6" stroke="#000" stroke-width="1.6"/><rect x="523.8" y="331.55" width="5.4" height="72.45" fill="url(#p51)" stroke="#000" stroke-width="1.6"/><path d="M541.2,399.12 V398.87 M539.1,398.87 H543.3" stroke="#000" stroke-width="1.6"/><rect x="538.5" y="399.92" width="5.4" height="4.08" fill="#fff" stroke="#000" stroke-width="1.6"/><path d="M549.9,367.86 V367.38 M547.8,367.38 H552" stroke="#000" stroke-width="1.6"/><rect x="547.2" y="368.66" width="5.4" height="35.34" fill="#000" stroke="#000" stroke-width="1.6"/><path d="M558.6,340.03 V339.05 M556.5,339.05 H560.7" stroke="#000" stroke-width="1.6"/><rect x="555.9" y="340.83" width="5.4" height="63.17" fill="url(#p52)" stroke="#000" stroke-width="1.6"/><path d="M567.3,327.82 V323.91 M565.2,323.91 H569.4" stroke="#000" stroke-width="1.6"/><rect x="564.6" y="328.62" width="5.4" height="75.38" fill="url(#p53)" stroke="#000" stroke-width="1.6"/><path d="M576,285.82 V283.87 M573.9,283.87 H578.1" stroke="#000" stroke-width="1.6"/><rect x="573.3" y="286.62" width="5.4" height="117.38" fill="url(#p54)" stroke="#000" stroke-width="1.6"/><path d="M439,390.9 V386.25 H450.3 V390.9" stroke="#000" stroke-width="1.6" fill="none"/><text x="444.95" y="388.2" text-anchor="middle" font-size="12.5" font-weight="bold" letter-spacing="0.2">**</text><path d="M443.6,375.7 V371.05 H457.2 V375.7" stroke="#000" stroke-width="1.6" fill="none"/><text x="450.7" y="373" text-anchor="middle" font-size="12.5" font-weight="bold" letter-spacing="0.2">**</text><path d="M452.7,362.6 V357.95 H466.3 V362.6" stroke="#000" stroke-width="1.6" fill="none"/><text x="459.8" y="359.9" text-anchor="middle" font-size="12.5" font-weight="bold" letter-spacing="0.2">*</text><path d="M459.2,349 V344.35 H477.4 V349" stroke="#000" stroke-width="1.6" fill="none"/><text x="468.6" y="346.3" text-anchor="middle" font-size="12.5" font-weight="bold" letter-spacing="0.2">**</text><path d="M487.6,376 V371.35 H499.7 V376" stroke="#000" stroke-width="1.6" fill="none"/><text x="493.95" y="373.3" text-anchor="middle" font-size="12.5" font-weight="bold" letter-spacing="0.2">***</text><path d="M494.6,360.9 V356.25 H507.8 V360.9" stroke="#000" stroke-width="1.6" fill="none"/><text x="501.5" y="358.2" text-anchor="middle" font-size="12.5" font-weight="bold" letter-spacing="0.2">***</text><path d="M499.7,336.6 V331.95 H516.9 V336.6" stroke="#000" stroke-width="1.6" fill="none"/><text x="508.6" y="333.9" text-anchor="middle" font-size="12.5" font-weight="bold" letter-spacing="0.2">***</text><path d="M505.8,321.1 V316.45 H527.6 V321.1" stroke="#000" stroke-width="1.6" fill="none"/><text x="517" y="318.4" text-anchor="middle" font-size="12.5" font-weight="bold" letter-spacing="0.2">*</text><path d="M536.6,365 V360.35 H548.7 V365" stroke="#000" stroke-width="1.6" fill="none"/><text x="542.95" y="362.3" text-anchor="middle" font-size="12.5" font-weight="bold" letter-spacing="0.2">**</text><path d="M544.2,337.9 V333.25 H556.8 V337.9" stroke="#000" stroke-width="1.6" fill="none"/><text x="550.8" y="335.2" text-anchor="middle" font-size="12.5" font-weight="bold" letter-spacing="0.2">***</text><path d="M549.7,323.8 V319.15 H566.9 V323.8" stroke="#000" stroke-width="1.6" fill="none"/><text x="558.6" y="321.1" text-anchor="middle" font-size="12.5" font-weight="bold" letter-spacing="0.2">*</text><path d="M553.7,280.4 V275.75 H575.6 V280.4" stroke="#000" stroke-width="1.6" fill="none"/><text x="564.95" y="277.7" text-anchor="middle" font-size="12.5" font-weight="bold" letter-spacing="0.2">***</text><rect x="599.8" y="264.7" width="14.2" height="7" rx="0.8" fill="#fff" stroke="#000" stroke-width="1.8"/><text x="622.4" y="271.7" font-size="11" font-weight="bold">Control-</text><rect x="599.8" y="281.15" width="14.2" height="7.6" rx="0.8" fill="#fff" stroke="#000" stroke-width="1.8"/><rect x="600.7" y="282.05" width="12.4" height="5.8" fill="#000"/><text x="622.4" y="288.45" font-size="11" font-weight="bold">Control+</text><rect x="599.8" y="298.14" width="14.2" height="9" rx="0.8" fill="#fff" stroke="#000" stroke-width="1.8"/><path clip-path="url(#c55)" d="M589.7,298.04 L596.6,307.24 M594.7,298.04 L601.6,307.24 M599.7,298.04 L606.6,307.24 M604.7,298.04 L611.6,307.24 M609.7,298.04 L616.6,307.24 M614.7,298.04 L621.6,307.24 M619.7,298.04 L626.6,307.24 " stroke="#000" stroke-width="2.2"/><text x="622.4" y="306.14" font-size="11" font-weight="bold">CaSiO<tspan font-size="8.5" dy="3">3</tspan></text><rect x="599.8" y="315.74" width="14.2" height="6.8" rx="0.8" fill="#fff" stroke="#000" stroke-width="1.8"/><path clip-path="url(#c56)" d="M600.7,316.64 L606.9,321.64 M606.9,316.64 L600.7,321.64 M606.9,316.64 L613.1,321.64 M613.1,316.64 L606.9,321.64 " stroke="#000" stroke-width="1.5"/><text x="622.4" y="322.64" font-size="11" font-weight="bold">Zn-Ca 0.1</text><rect x="599.8" y="330.65" width="14.2" height="7.6" rx="0.8" fill="#fff" stroke="#000" stroke-width="1.8"/><rect x="600.7" y="333.75" width="12.4" height="1.4" fill="#000"/><text x="622.4" y="337.95" font-size="11" font-weight="bold">Zn-Ca 0.3</text></g>
</svg>
</body></html>
